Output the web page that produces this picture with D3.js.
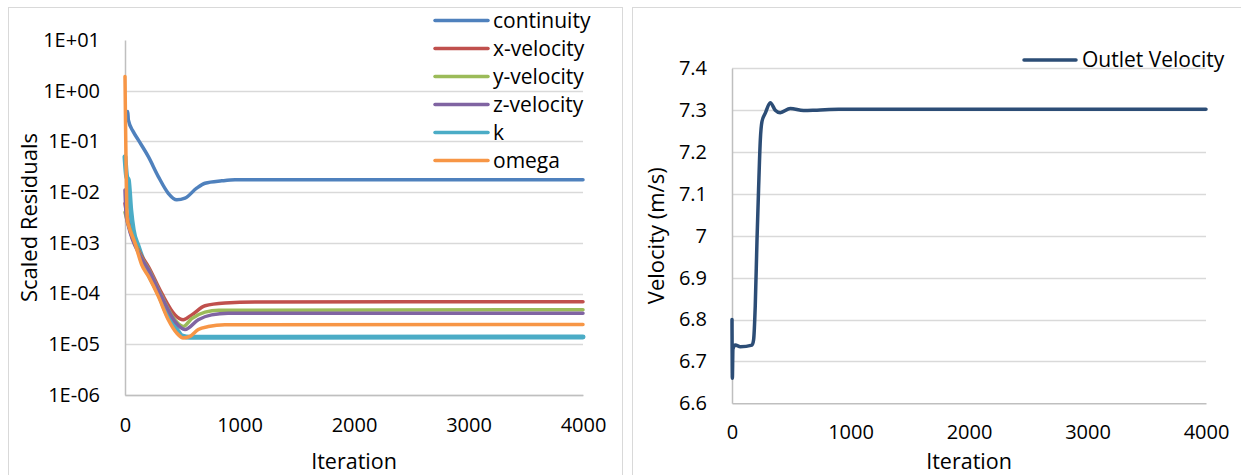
<!DOCTYPE html>
<html>
<head>
<meta charset="utf-8">
<script src="https://cdn.jsdelivr.net/npm/d3@7"></script>
<style>
  body { margin: 0; background: #fff; }
  text { font-family: "Open Sans", sans-serif; fill: #000; }
</style>
</head>
<body>
<script>
// residual series, [iteration, value]
const continuity = [[10, 0.30], [24, 0.387], [29, 0.265], [72, 0.156], [116, 0.107], [204, 0.050], [291, 0.0203],
  [378, 0.0095], [452, 0.00705], [524, 0.0076], [626, 0.012], [699, 0.015], [845, 0.0167], [961, 0.0175], [4000, 0.0175]];
const xVelocity = [[0, 6e-3], [29, 2.45e-3], [131, 6.3e-4], [204, 3.4e-4], [320, 1.02e-4], [437, 3.8e-5], [509, 3.05e-5],
  [583, 3.8e-5], [699, 5.75e-5], [873, 6.5e-5], [1135, 6.8e-5], [4000, 6.9e-5]];
const yVelocity = [[0, 4e-3], [29, 2.3e-3], [131, 5.8e-4], [204, 3.1e-4], [320, 9e-5], [437, 3.0e-5], [509, 2.25e-5],
  [583, 3.2e-5], [699, 4.3e-5], [820, 4.7e-5], [4000, 4.8e-5]];
const zVelocity = [[0, 1.1e-2], [10, 3.5e-3], [29, 2.2e-3], [131, 5.6e-4], [204, 3.0e-4], [320, 8.7e-5], [437, 2.8e-5],
  [524, 1.95e-5], [640, 3.05e-5], [756, 3.8e-5], [900, 4.1e-5], [4000, 4.1e-5]];
const kRes = [[0, 0.05], [15, 0.02], [29, 0.0175], [50, 4.5e-3], [72, 1.8e-3], [116, 8.5e-4], [204, 2.5e-4], [291, 1.02e-4],
  [378, 3.5e-5], [452, 1.95e-5], [496, 1.47e-5], [568, 1.38e-5], [4000, 1.4e-5]];
const omega = [[0, 1.9], [20, 2.8e-3], [29, 2.3e-3], [87, 9.9e-4], [146, 3.7e-4], [204, 2.2e-4], [291, 8.8e-5],
  [378, 3.05e-5], [452, 1.66e-5], [509, 1.33e-5], [568, 1.43e-5], [640, 1.95e-5], [728, 2.24e-5], [873, 2.43e-5], [4000, 2.45e-5]];

const residNames = ["continuity", "x-velocity", "y-velocity", "z-velocity", "k", "omega"];
const residColors = ["#4f81bd", "#c0504d", "#9bbb59", "#8064a2", "#4bacc6", "#f79646"];
const residSeries = [continuity, xVelocity, yVelocity, zVelocity, kRes, omega];
const residTicks = [1e1, 1e0, 1e-1, 1e-2, 1e-3, 1e-4, 1e-5, 1e-6];

// outlet velocity, [iteration, m/s]
const outletVelocity = [[0, 6.80], [3, 6.66], [8, 6.73], [28, 6.739], [70, 6.735], [169, 6.739], [182, 6.751], [196, 6.831],
  [211, 6.99], [224, 7.109], [239, 7.229], [253, 7.273], [281, 7.293], [323, 7.318], [365, 7.300], [407, 7.294],
  [492, 7.304], [604, 7.299], [717, 7.300], [900, 7.302], [4000, 7.302]];
const velocityTicks = [6.6, 6.7, 6.8, 6.9, 7, 7.1, 7.2, 7.3, 7.4];
const iterTicks = [0, 1000, 2000, 3000, 4000];

const svg = d3.select("body").append("svg")
    .attr("width", 1241)
    .attr("height", 475);

// chart frames
svg.append("rect").attr("x", 8.5).attr("y", 7.5).attr("width", 614).attr("height", 480)
    .attr("fill", "none").attr("stroke", "#d9d9d9");
svg.append("rect").attr("x", 632.5).attr("y", 7.5).attr("width", 620).attr("height", 480)
    .attr("fill", "none").attr("stroke", "#d9d9d9");

function expLabel(v) {
    const e = Math.round(Math.log10(v));
    return "1E" + (e < 0 ? "-" : "+") + String(Math.abs(e)).padStart(2, "0");
}

function drawFrame(x, y, yTicks, yFmt, xTitle, yTitle, yTitleX, xPad) {
    const [x0, x1] = x.range();
    const [y0, y1] = y.range();

    svg.append("g")
        .selectAll("line")
        .data(yTicks.slice(1))
        .join("line")
        .attr("x1", x0).attr("x2", x1)
        .attr("y1", d => Math.round(y(d)) + 0.5)
        .attr("y2", d => Math.round(y(d)) + 0.5)
        .attr("stroke", "#d9d9d9").attr("stroke-width", 1.5);

    const ay = svg.append("g")
        .attr("transform", `translate(${x0},0)`)
        .call(d3.axisLeft(y).tickValues(yTicks).tickFormat(yFmt).tickSize(0).tickPadding(25));
    ay.select(".domain").attr("stroke", "#bfbfbf").attr("stroke-width", 1.5);
    ay.selectAll("text").style("font-size", "20px").style("font-family", "Open Sans");

    const ax = svg.append("g")
        .attr("transform", `translate(0,${y0})`)
        .call(d3.axisBottom(x).tickValues(iterTicks).tickFormat(d3.format("d")).tickSize(0).tickPadding(xPad));
    ax.select(".domain").attr("stroke", "#bfbfbf").attr("stroke-width", 1.5);
    ax.selectAll("text").style("font-size", "20px").style("font-family", "Open Sans");

    svg.append("text")
        .attr("x", (x0 + x1) / 2).attr("y", 469)
        .attr("text-anchor", "middle")
        .style("font-size", "21.5px")
        .text(xTitle);

    svg.append("text")
        .attr("transform", `translate(${yTitleX},${(y0 + y1) / 2}) rotate(-90)`)
        .attr("text-anchor", "middle")
        .attr("dy", "0.35em")
        .style("font-size", "22px")
        .text(yTitle);
}

// left: scaled residuals
const xL = d3.scaleLinear().domain([0, 4000]).range([125, 583]);
const yL = d3.scaleLog().domain([1e-6, 1e1]).range([395, 40]);
drawFrame(xL, yL, residTicks, expLabel, "Iteration", "Scaled Residuals", 29, 23);

const lineL = d3.line()
    .x(d => xL(d[0]))
    .y(d => yL(d[1]))
    .curve(d3.curveMonotoneX);

const drawOrder = [0, 4, 1, 2, 3, 5];
for (let i of drawOrder) {
    svg.append("path")
        .datum(residSeries[i])
        .attr("d", lineL)
        .attr("fill", "none")
        .attr("stroke", residColors[i])
        .attr("stroke-width", i === 4 ? 5 : 3.5)
        .attr("stroke-linejoin", "round")
        .attr("stroke-linecap", "round");
}

const legL = svg.append("g");
residNames.forEach((name, i) => {
    const y = 20.5 + i * 28;
    legL.append("line")
        .attr("x1", 435).attr("x2", 488).attr("y1", y).attr("y2", y)
        .attr("stroke", residColors[i]).attr("stroke-width", 3.5).attr("stroke-linecap", "round");
    legL.append("text")
        .attr("x", 493).attr("y", y).attr("dy", "0.35em")
        .style("font-size", "21px")
        .text(name);
});

// right: outlet velocity
const xR = d3.scaleLinear().domain([0, 4000]).range([732, 1206]);
const yR = d3.scaleLinear().domain([6.6, 7.4]).range([403.3, 68.3]);
drawFrame(xR, yR, velocityTicks, d3.format(""), "Iteration", "Velocity (m/s)", 656, 22);

const lineR = d3.line()
    .x(d => xR(d[0]))
    .y(d => yR(d[1]))
    .curve(d3.curveMonotoneX);

svg.append("path")
    .datum(outletVelocity)
    .attr("d", lineR)
    .attr("fill", "none")
    .attr("stroke", "#2c4d76")
    .attr("stroke-width", 3.5)
    .attr("stroke-linejoin", "round")
    .attr("stroke-linecap", "round");

svg.append("line")
    .attr("x1", 1024).attr("x2", 1076).attr("y1", 60).attr("y2", 60)
    .attr("stroke", "#2c4d76").attr("stroke-width", 3.5).attr("stroke-linecap", "round");
svg.append("text")
    .attr("x", 1082).attr("y", 60).attr("dy", "0.35em")
    .style("font-size", "21px")
    .text("Outlet Velocity");
</script>
</body>
</html>
